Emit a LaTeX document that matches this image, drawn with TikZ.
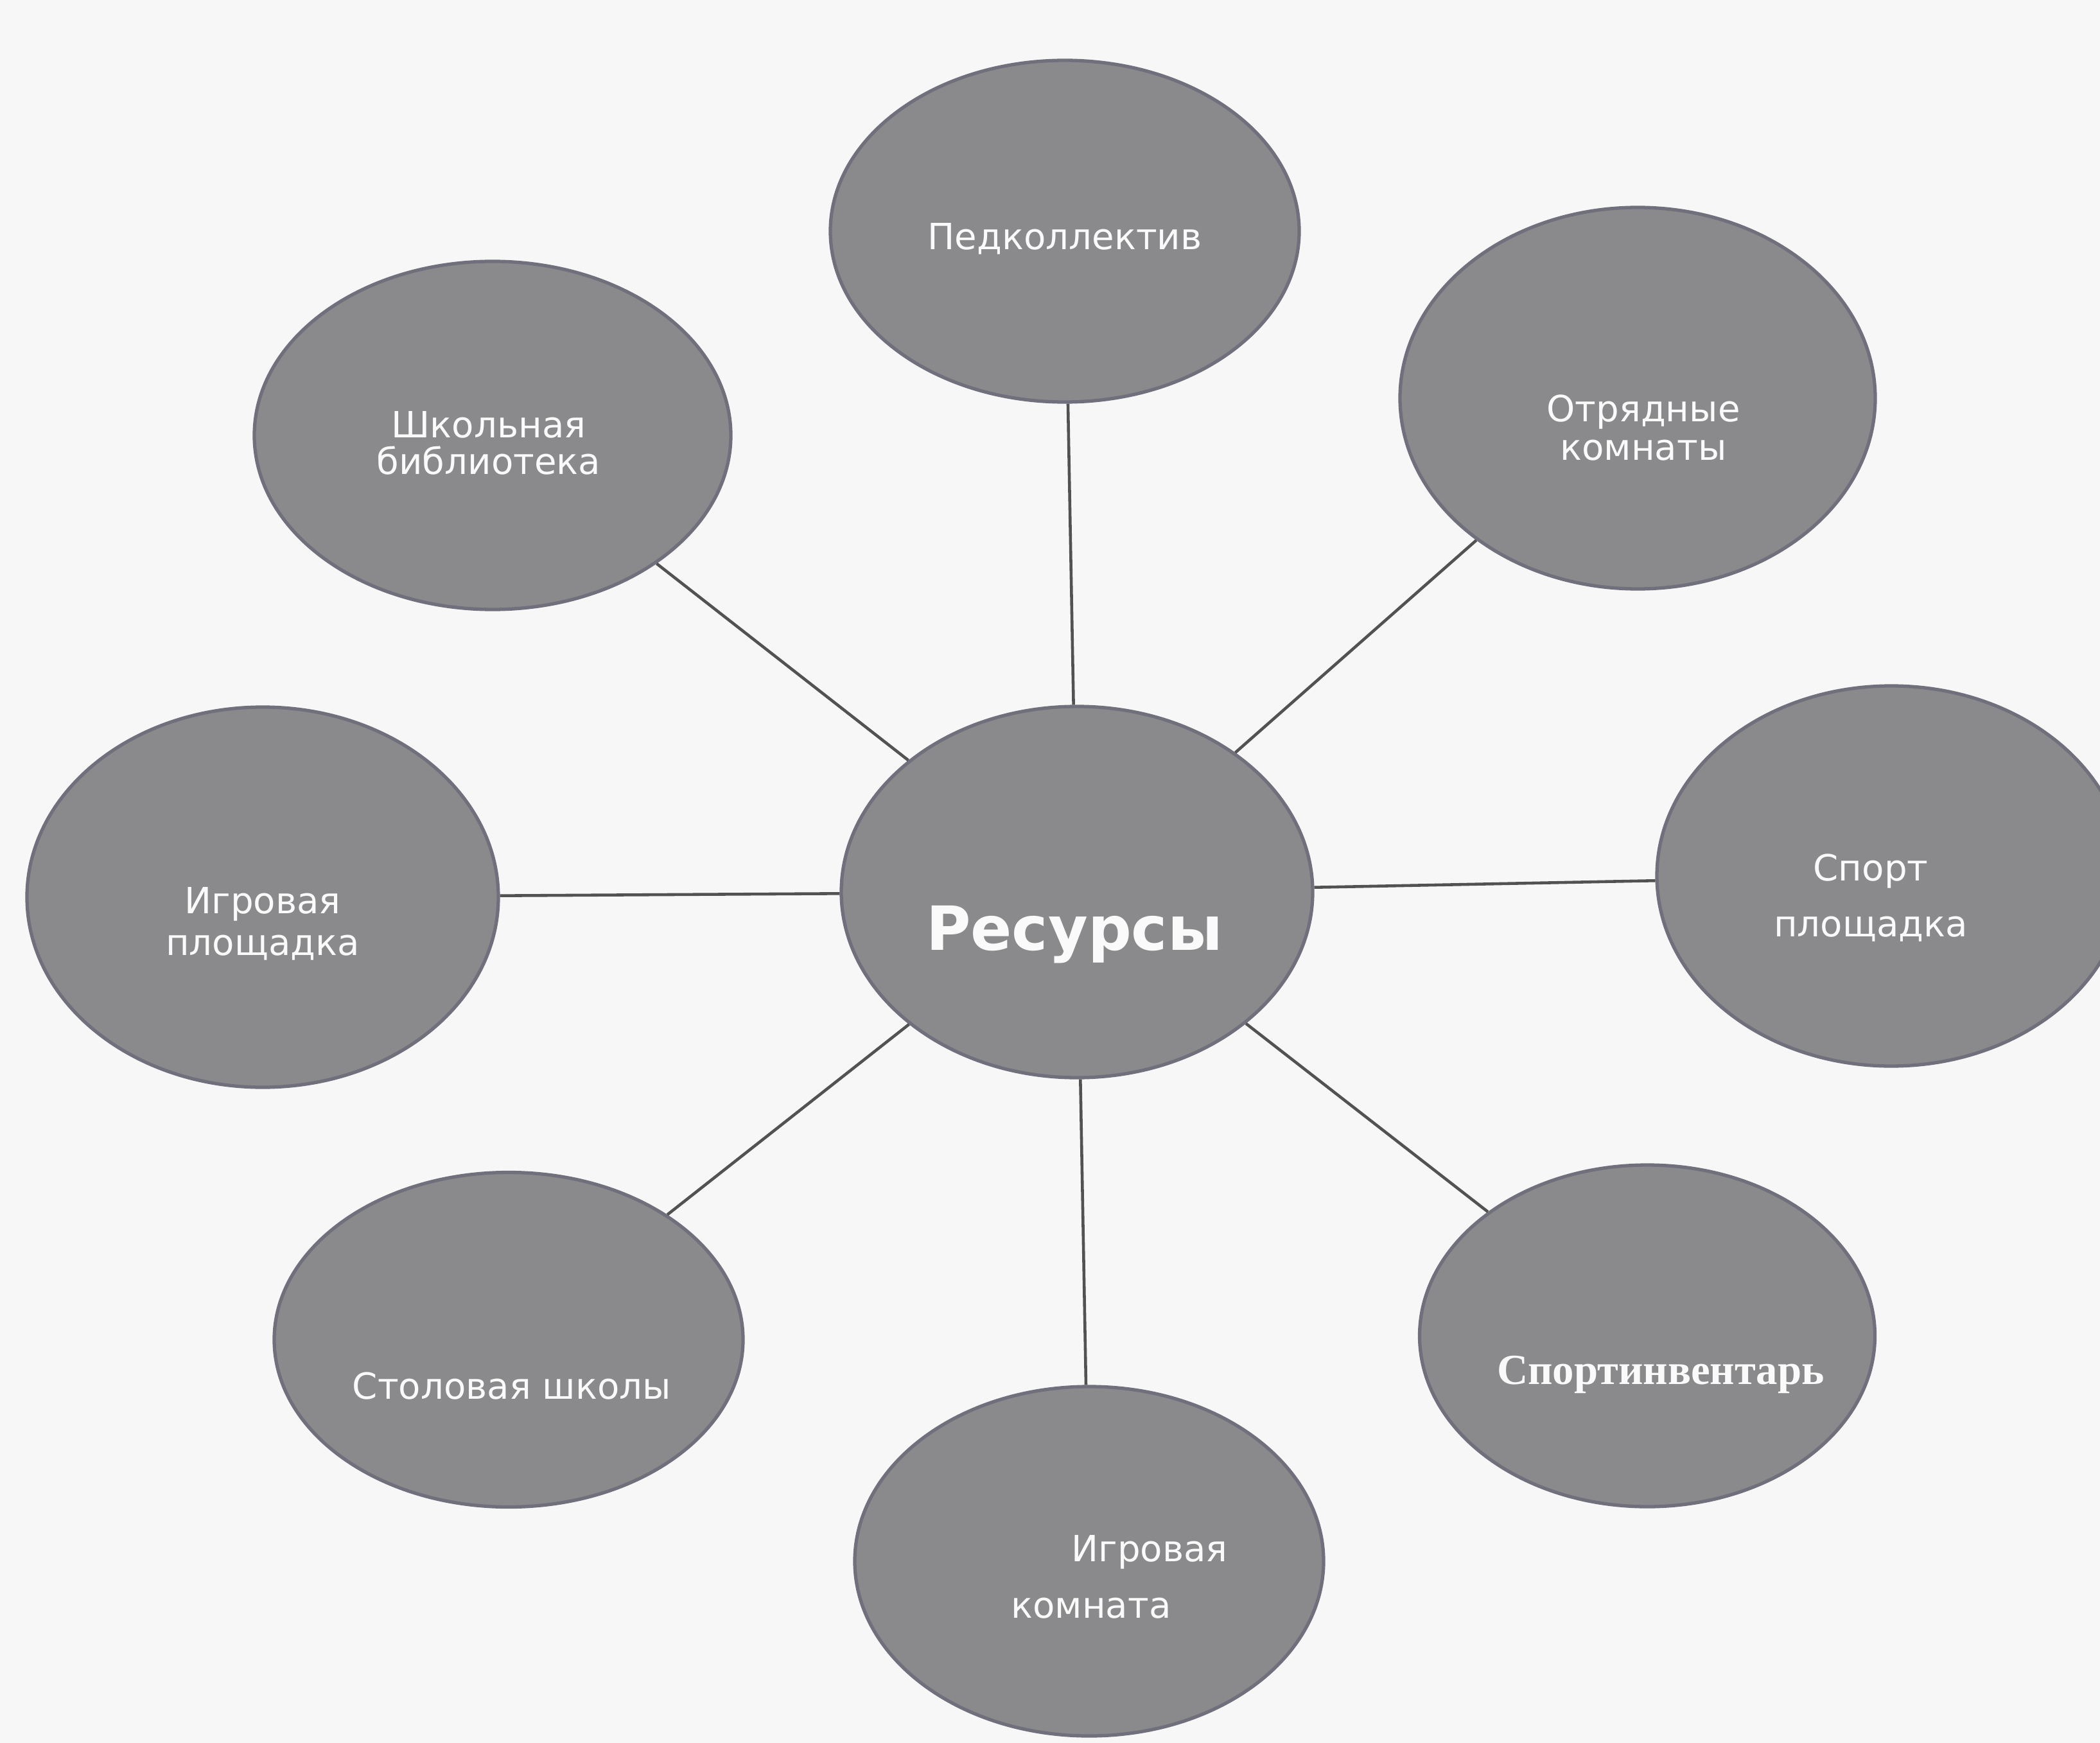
\documentclass[tikz,border=0pt]{standalone}
\usepackage{fontspec}
\setmainfont{DejaVu Sans}
\newfontfamily\serifrus{Liberation Serif}
\usepackage{xcolor}
\usetikzlibrary{shapes.geometric, positioning, calc}

\definecolor{bubblegray}{RGB}{138,138,140}
\definecolor{bubbleedge}{RGB}{112,112,124}
\definecolor{spoke}{RGB}{82,82,82}
\definecolor{paper}{RGB}{248,247,247}

\begin{document}
\begin{tikzpicture}[
    every node/.style={align=center},
    bubble/.style={ellipse, draw=bubbleedge, fill=bubblegray, line width=1.5pt, inner sep=0pt},
    txt/.style={text=white!96!gray, font=\fontsize{16}{19}\selectfont},
    link/.style={draw=spoke, line width=1.3pt}
]

% Page
\fill [paper] (0,0) rectangle (32.7,-27.14);
\useasboundingbox (0,0) rectangle (32.7,-27.14);

% Center Block
\node (res) [bubble, minimum width=7.34cm, minimum height=5.78cm] at (16.77,-13.89) {};
\node (res_txt) [txt, font=\fontsize{27}{32}\selectfont\bfseries] at (16.73,-14.55) {Ресурсы};

% Outer Blocks
\node (ped) [bubble, minimum width=7.30cm, minimum height=5.32cm] at (16.58,-3.60) {};
\node (ped_txt) [txt] at (16.58,-3.72) {Педколлектив};

\node (lib) [bubble, minimum width=7.42cm, minimum height=5.42cm] at (7.67,-6.78) {};
\node (lib_txt) [txt, font=\fontsize{16}{16}\selectfont] at (7.61,-6.90) {Школьная\\библиотека};

\node (otr) [bubble, minimum width=7.40cm, minimum height=5.94cm] at (25.50,-6.20) {};
\node (otr_txt) [txt, font=\fontsize{16}{17}\selectfont] at (25.59,-6.66) {Отрядные\\комнаты};

\node (igr) [bubble, minimum width=7.34cm, minimum height=5.92cm] at (4.09,-13.97) {};
\node (igr_txt) [txt, font=\fontsize{16}{18.5}\selectfont] at (4.09,-14.38) {Игровая\\площадка};

\node (spo) [bubble, minimum width=7.30cm, minimum height=5.92cm] at (29.45,-13.64) {};
\node (spo_txt) [txt, font=\fontsize{16}{25}\selectfont] at (29.13,-13.98) {Спорт\\площадка};

\node (sto) [bubble, minimum width=7.30cm, minimum height=5.21cm] at (7.92,-20.86) {};
\node (sto_txt) [txt] at (7.97,-21.58) {Столовая школы};

\node (inv) [bubble, minimum width=7.09cm, minimum height=5.32cm] at (25.65,-20.80) {};
\node (inv_txt) [txt, font=\fontsize{19}{22}\selectfont\serifrus\bfseries] at (25.86,-21.40) {Спортинвентарь};

\node (kom) [bubble, minimum width=7.30cm, minimum height=5.44cm] at (16.96,-24.31) {};
\node (kom_txt) [txt, font=\fontsize{16}{25}\selectfont, align=left, anchor=west] at (15.62,-24.55) {\hspace*{0.94cm}Игровая\\комната};

% Spokes
\draw [link] (res) -- (ped);
\draw [link] (res) -- (lib);
\draw [link] (res) -- (otr);
\draw [link] (res) -- (igr);
\draw [link] (res) -- (spo);
\draw [link] (res) -- (sto);
\draw [link] (res) -- (inv);
\draw [link] (res) -- (kom);

\end{tikzpicture}
\end{document}
